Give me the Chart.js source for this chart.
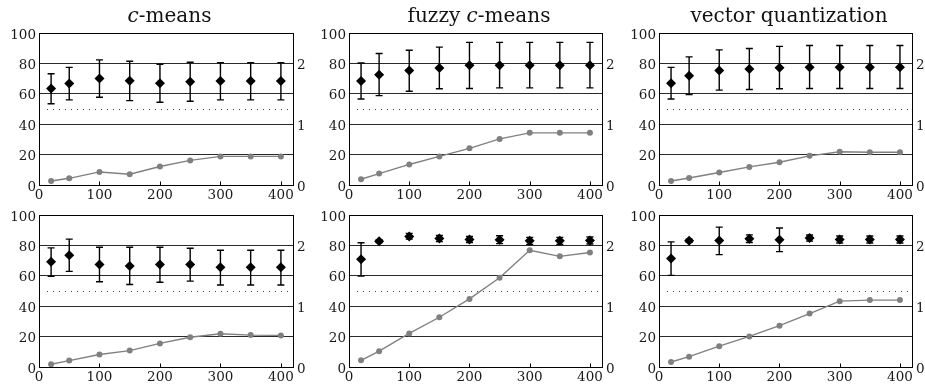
<!DOCTYPE html>
<html><head><meta charset="utf-8">
<script src="https://cdn.jsdelivr.net/npm/chart.js@4.4.1/dist/chart.umd.min.js"></script>
<style>
html,body{margin:0;padding:0;background:#fff;width:925px;height:388px;overflow:hidden;position:relative}
canvas{position:absolute}
</style></head><body>
<script>
// ---- data ----
const xValues = [20, 50, 100, 150, 200, 250, 300, 350, 400];
const xTickStep = 100;
const leftTickStep = 20;
const rightTickStep = 1;
const referenceLevel = 50;

const titleCMeans = [['c', true], ['-means', false]];
const titleFuzzy = [['fuzzy ', false], ['c', true], ['-means', false]];
const titleVQ = [['vector quantization', false]];

// row 1
const cmeans1Mean = [63.5, 66.8, 70.1, 68.6, 67.0, 67.9, 68.4, 68.4, 68.4];
const cmeans1High = [73.2, 77.4, 82.3, 81.4, 79.4, 80.8, 80.5, 80.5, 80.5];
const cmeans1Low  = [53.5, 56.0, 57.7, 55.5, 54.4, 55.1, 56.0, 56.0, 56.0];
const cmeans1Gray = [0.066, 0.11, 0.215, 0.178, 0.305, 0.405, 0.47, 0.47, 0.47];

const fuzzy1Mean = [68.4, 72.6, 75.4, 77.0, 78.8, 78.8, 78.8, 78.8, 78.8];
const fuzzy1High = [80.3, 86.5, 88.7, 90.7, 93.8, 93.8, 93.8, 93.8, 93.8];
const fuzzy1Low  = [56.6, 58.8, 61.7, 63.3, 63.5, 63.9, 63.9, 63.9, 63.9];
const fuzzy1Gray = [0.095, 0.188, 0.338, 0.47, 0.603, 0.758, 0.858, 0.858, 0.858];

const vq1Mean = [67.0, 71.9, 75.4, 76.3, 77.2, 77.4, 77.4, 77.4, 77.4];
const vq1High = [77.4, 84.3, 88.9, 89.8, 91.2, 91.8, 91.8, 91.8, 91.8];
const vq1Low  = [56.6, 59.5, 62.4, 62.8, 63.3, 63.5, 63.5, 63.5, 63.5];
const vq1Gray = [0.066, 0.115, 0.205, 0.298, 0.375, 0.48, 0.548, 0.538, 0.538];

// row 2
const cmeans2Mean = [69.3, 73.5, 67.5, 66.4, 67.5, 67.5, 65.6, 65.6, 65.6];
const cmeans2High = [78.4, 84.1, 78.8, 78.8, 78.8, 78.1, 76.8, 76.8, 76.8];
const cmeans2Low  = [59.6, 62.9, 56.1, 54.3, 55.8, 56.5, 53.9, 53.9, 53.9];
const cmeans2Gray = [0.045, 0.105, 0.205, 0.27, 0.388, 0.49, 0.548, 0.525, 0.52];

const fuzzy2Mean = [70.9, 82.8, 85.9, 84.5, 83.9, 83.7, 83.0, 83.0, 83.2];
const fuzzy2High = [81.7, 83.8, 87.9, 86.5, 85.9, 86.3, 85.3, 85.3, 85.5];
const fuzzy2Low  = [59.8, 81.8, 84.1, 82.5, 81.9, 81.2, 80.7, 80.7, 80.9];
const fuzzy2Gray = [0.11, 0.26, 0.553, 0.818, 1.12, 1.468, 1.92, 1.82, 1.883];

const vq2Mean = [71.3, 83.0, 83.2, 84.3, 83.7, 84.8, 83.9, 83.9, 83.9];
const vq2High = [82.3, 84.0, 92.0, 86.9, 91.4, 86.8, 86.2, 86.2, 86.2];
const vq2Low  = [60.3, 82.0, 73.9, 81.9, 75.9, 82.8, 81.6, 81.6, 81.6];
const vq2Gray = [0.083, 0.17, 0.343, 0.503, 0.68, 0.878, 1.083, 1.1, 1.1];

// ---- layout ----
const cols = [{left: 0, w: 310, right: 17}, {left: 310, w: 310, right: 18}, {left: 620, w: 305, right: 13}];
const rows = [{top: 0, h: 205, pad: 33, bottom: 20}, {top: 195, h: 193, pad: 20, bottom: 21}];

const panels = [
  {r: 0, c: 0, title: titleCMeans, mean: cmeans1Mean, high: cmeans1High, low: cmeans1Low, gray: cmeans1Gray},
  {r: 0, c: 1, title: titleFuzzy, mean: fuzzy1Mean, high: fuzzy1High, low: fuzzy1Low, gray: fuzzy1Gray},
  {r: 0, c: 2, title: titleVQ, mean: vq1Mean, high: vq1High, low: vq1Low, gray: vq1Gray},
  {r: 1, c: 0, title: null, mean: cmeans2Mean, high: cmeans2High, low: cmeans2Low, gray: cmeans2Gray},
  {r: 1, c: 1, title: null, mean: fuzzy2Mean, high: fuzzy2High, low: fuzzy2Low, gray: fuzzy2Gray},
  {r: 1, c: 2, title: null, mean: vq2Mean, high: vq2High, low: vq2Low, gray: vq2Gray},
];

const tickFont = {family: 'DejaVu Serif', size: 13.5, style: 'normal', weight: 'normal'};
Chart.defaults.font.family = 'DejaVu Serif';
Chart.defaults.font.size = 13.5;
Chart.defaults.color = '#1a1a1a';

panels.forEach((p, idx) => {
  const col = cols[p.c], row = rows[p.r];
  const cv = document.createElement('canvas');
  cv.width = col.w; cv.height = row.h;
  cv.style.left = col.left + 'px'; cv.style.top = row.top + 'px';
  cv.style.width = col.w + 'px'; cv.style.height = row.h + 'px';
  document.body.appendChild(cv);

  const decor = {
    id: 'decor' + idx,
    beforeDatasetsDraw(chart) {
      const ctx = chart.ctx, xs = chart.scales.x, ys = chart.scales.y, ca = chart.chartArea;
      ctx.save();
      // dotted reference line
      const yr = Math.round(ys.getPixelForValue(referenceLevel)) + 0.5;
      ctx.strokeStyle = '#444'; ctx.lineWidth = 1; ctx.setLineDash([1, 5]);
      ctx.beginPath(); ctx.moveTo(ca.left + 8, yr); ctx.lineTo(ca.right - 2, yr); ctx.stroke();
      ctx.setLineDash([]);
      // inward x ticks
      ctx.strokeStyle = '#000';
      ctx.beginPath();
      xs.ticks.forEach(t => {
        const px = Math.round(xs.getPixelForValue(t.value)) + 0.5;
        ctx.moveTo(px, ca.bottom); ctx.lineTo(px, ca.bottom - 3.5);
      });
      ctx.stroke();
      // error bars
      ctx.strokeStyle = '#000'; ctx.lineWidth = 1.4;
      ctx.beginPath();
      xValues.forEach((xv, i) => {
        const px = xs.getPixelForValue(xv);
        const yl = ys.getPixelForValue(p.low[i]), yh = ys.getPixelForValue(p.high[i]);
        ctx.moveTo(px, yl); ctx.lineTo(px, yh);
        ctx.moveTo(px - 3.5, yl); ctx.lineTo(px + 3.5, yl);
        ctx.moveTo(px - 3.5, yh); ctx.lineTo(px + 3.5, yh);
      });
      ctx.stroke();
      ctx.restore();
    },
    afterDraw(chart) {
      if (!p.title) return;
      const ctx = chart.ctx, ca = chart.chartArea;
      const font = it => (it ? 'italic ' : '') + '20px "DejaVu Serif", serif';
      let total = 0;
      p.title.forEach(([t, it]) => { ctx.font = font(it); total += ctx.measureText(t).width; });
      let x = (ca.left + ca.right) / 2 + 3.5 - total / 2;
      ctx.save();
      ctx.fillStyle = '#111'; ctx.textBaseline = 'alphabetic'; ctx.textAlign = 'left';
      p.title.forEach(([t, it]) => { ctx.font = font(it); ctx.fillText(t, x, 22); x += ctx.measureText(t).width; });
      ctx.restore();
    }
  };

  new Chart(cv, {
    type: 'scatter',
    data: {
      datasets: [
        {
          data: xValues.map((x, i) => ({x, y: p.mean[i]})),
          yAxisID: 'y', showLine: false,
          pointStyle: 'rectRot', pointRadius: 5, pointBackgroundColor: '#000', pointBorderColor: '#000', pointBorderWidth: 0,
          order: 1
        },
        {
          data: xValues.map((x, i) => ({x, y: p.gray[i]})),
          yAxisID: 'y2', showLine: true, borderColor: '#808080', borderWidth: 1.4,
          pointStyle: 'circle', pointRadius: 3, pointBackgroundColor: '#808080', pointBorderColor: '#808080', pointBorderWidth: 0,
          order: 2
        }
      ]
    },
    options: {
      responsive: false, animation: false, devicePixelRatio: 1,
      layout: {padding: {top: row.pad, left: 0, right: 0, bottom: 0}},
      plugins: {legend: {display: false}, tooltip: {enabled: false}, title: {display: false}},
      scales: {
        x: {
          type: 'linear', position: 'bottom', min: 0, max: 420,
          ticks: {stepSize: xTickStep, includeBounds: false, autoSkip: false, maxRotation: 0, padding: 2, color: '#1a1a1a', font: tickFont},
          grid: {drawOnChartArea: false, drawTicks: false},
          border: {display: true, color: '#000', width: 1},
          afterFit: s => { s.height = row.bottom; }
        },
        y: {
          type: 'linear', position: 'left', min: 0, max: 100,
          ticks: {stepSize: leftTickStep, includeBounds: false, autoSkip: false, padding: 3, labelOffset: 2, color: '#1a1a1a', font: tickFont},
          grid: {drawTicks: false, color: ctx => (ctx.tick && (ctx.tick.value === 0 || ctx.tick.value === 100)) ? '#000' : '#2a2a2a', lineWidth: 1},
          border: {display: true, color: '#000', width: 1},
          afterFit: s => { s.width = 39; }
        },
        y2: {
          type: 'linear', position: 'right', min: 0, max: 2.5,
          ticks: {stepSize: rightTickStep, includeBounds: false, autoSkip: false, padding: 4, labelOffset: 2, color: '#1a1a1a', font: tickFont},
          grid: {drawOnChartArea: false, drawTicks: false},
          border: {display: true, color: '#000', width: 1},
          afterFit: s => { s.width = col.right; }
        }
      }
    },
    plugins: [decor]
  });
});
</script>
</body></html>
